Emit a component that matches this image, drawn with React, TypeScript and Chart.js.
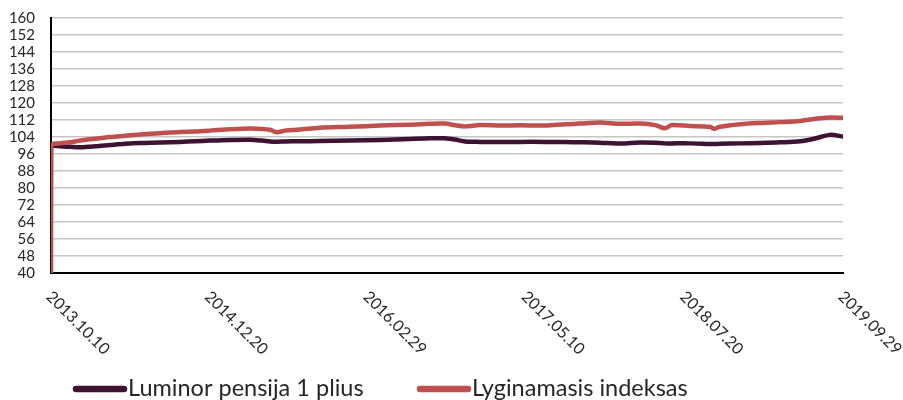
import React, { useEffect, useRef } from "react";
import { Chart, registerables } from "chart.js";

Chart.register(...registerables);

const seriesNames = ["Luminor pensija 1 plius", "Lyginamasis indeksas"];
const seriesColors = ["#3d1233", "#c0504d"];

const tickLabels = ["2013.10.10", "2014.12.20", "2016.02.29", "2017.05.10", "2018.07.20", "2019.09.29"];
const tickDays = [0, 436, 872, 1308, 1744, 2180];

const yMin = 40;
const yMax = 160;
const yStep = 8;

const fundDays = [0, 25, 52, 80, 121, 162, 204, 245, 300, 355, 396, 438, 493, 548, 581, 603, 622, 644, 685, 740, 823, 906, 988, 1043, 1084, 1112, 1140, 1181, 1236, 1291, 1360, 1415, 1456, 1511, 1566, 1621, 1663, 1690, 1709, 1759, 1814, 1825, 1841, 1897, 1952, 2007, 2062, 2103, 2144, 2180];
const fundValues = [100, 99.6, 99.4, 99.2, 99.6, 100.2, 100.8, 101.2, 101.4, 101.7, 102, 102.3, 102.6, 102.7, 102.3, 101.9, 101.8, 101.9, 102, 102.1, 102.3, 102.6, 103.1, 103.4, 103.4, 102.8, 101.9, 101.7, 101.6, 101.7, 101.7, 101.6, 101.5, 101.3, 100.9, 101.4, 101.3, 101, 101, 101, 100.7, 100.7, 100.8, 101, 101.2, 101.5, 102, 103.3, 105, 104.2];

const indexDays = [0, 1, 25, 52, 80, 121, 162, 204, 245, 300, 355, 396, 438, 493, 548, 581, 603, 622, 644, 685, 740, 823, 906, 988, 1043, 1084, 1112, 1140, 1181, 1236, 1291, 1360, 1415, 1456, 1511, 1566, 1621, 1663, 1690, 1709, 1759, 1814, 1825, 1841, 1897, 1952, 2007, 2062, 2103, 2144, 2180];
const indexValues = [40, 100, 101, 101.5, 102.3, 103.2, 104, 104.6, 105.2, 105.8, 106.4, 106.6, 107, 107.6, 108, 107.8, 107.4, 106.2, 107, 107.5, 108.4, 108.8, 109.4, 109.8, 110.2, 110.3, 109.5, 109, 109.6, 109.4, 109.5, 109.4, 110, 110.3, 110.8, 110.2, 110.3, 109.6, 108.1, 109.6, 109.2, 108.8, 107.8, 108.8, 110, 110.6, 111, 111.5, 112.6, 113.2, 113];

const FONT = "Lato, 'DejaVu Sans', sans-serif";
const TEXT_COLOR = "#262626";

const xLabelsPlugin = {
  id: "rotatedXLabels",
  afterDraw(chart: any) {
    const { ctx, chartArea } = chart;
    const xs = chart.scales.x;
    ctx.save();
    ctx.font = `16px ${FONT}`;
    ctx.fillStyle = TEXT_COLOR;
    ctx.textAlign = "left";
    ctx.textBaseline = "middle";
    tickDays.forEach((d, i) => {
      const px = xs.getPixelForValue(d);
      ctx.save();
      ctx.translate(px - 2, chartArea.bottom + 21);
      ctx.rotate(Math.PI / 4);
      ctx.fillText(tickLabels[i], 0, 0);
      ctx.restore();
    });
    ctx.restore();
  },
};

const legendPlugin = {
  id: "lineLegend",
  afterDraw(chart: any) {
    const { ctx } = chart;
    const items = [
      { lineStart: 73, lineEnd: 127, textX: 128 },
      { lineStart: 417, lineEnd: 471, textX: 472 },
    ];
    ctx.save();
    ctx.font = `23.5px ${FONT}`;
    ctx.textAlign = "left";
    ctx.textBaseline = "alphabetic";
    chart.data.datasets.forEach((ds: any, i: number) => {
      const it = items[i];
      ctx.strokeStyle = ds.borderColor;
      ctx.lineWidth = 6.5;
      ctx.lineCap = "round";
      ctx.beginPath();
      ctx.moveTo(it.lineStart + 3, 389);
      ctx.lineTo(it.lineEnd - 3, 389);
      ctx.stroke();
      ctx.fillStyle = TEXT_COLOR;
      ctx.fillText(ds.label, it.textX, 396);
    });
    ctx.restore();
  },
};

export default function App() {
  const canvasRef = useRef<HTMLCanvasElement | null>(null);

  useEffect(() => {
    if (!canvasRef.current) return;
    const toPoints = (xs: number[], ys: number[]) => xs.map((x, i) => ({ x, y: ys[i] }));
    const chart = new Chart(canvasRef.current, {
      type: "line",
      data: {
        datasets: [
          {
            label: seriesNames[0],
            data: toPoints(fundDays, fundValues),
            borderColor: seriesColors[0],
            backgroundColor: seriesColors[0],
            borderWidth: 4.5,
            pointRadius: 0,
            tension: 0.3,
            borderCapStyle: "round",
            borderJoinStyle: "round",
            order: 1,
          },
          {
            label: seriesNames[1],
            data: toPoints(indexDays, indexValues),
            borderColor: seriesColors[1],
            backgroundColor: seriesColors[1],
            borderWidth: 4.5,
            pointRadius: 0,
            tension: 0.3,
            borderCapStyle: "round",
            borderJoinStyle: "round",
            order: 0,
          },
        ],
      },
      options: {
        animation: false,
        responsive: false,
        maintainAspectRatio: false,
        layout: { padding: { top: 18, right: 60, left: 0, bottom: 0 } },
        plugins: {
          legend: { display: false },
          tooltip: { enabled: false },
        },
        font: { family: FONT },
        scales: {
          x: {
            type: "linear",
            min: tickDays[0],
            max: tickDays[tickDays.length - 1],
            afterBuildTicks: (scale: any) => {
              scale.ticks = tickDays.map((v) => ({ value: v }));
            },
            afterFit: (scale: any) => {
              scale.height = 127;
            },
            ticks: { display: false },
            grid: { display: false },
            border: { display: true, color: "#000000", width: 2 },
          },
          y: {
            min: yMin,
            max: yMax,
            afterFit: (scale: any) => {
              scale.width = 51;
            },
            ticks: {
              stepSize: yStep,
              autoSkip: false,
              padding: 0,
              color: TEXT_COLOR,
              font: { family: FONT, size: 15 },
            },
            grid: {
              color: "#c6c6c6",
              lineWidth: 1.5,
              drawTicks: true,
              tickLength: 16,
              tickColor: "rgba(0,0,0,0)",
            },
            border: { display: true, color: "#000000", width: 2 },
          },
        },
      } as any,
      plugins: [xLabelsPlugin, legendPlugin],
    });
    return () => chart.destroy();
  }, []);

  return (
    <div style={{ position: "absolute", left: 0, top: 0, width: 903, height: 400 }}>
      <canvas ref={canvasRef} width={903} height={400} style={{ width: 903, height: 400, display: "block" }} />
    </div>
  );
}
